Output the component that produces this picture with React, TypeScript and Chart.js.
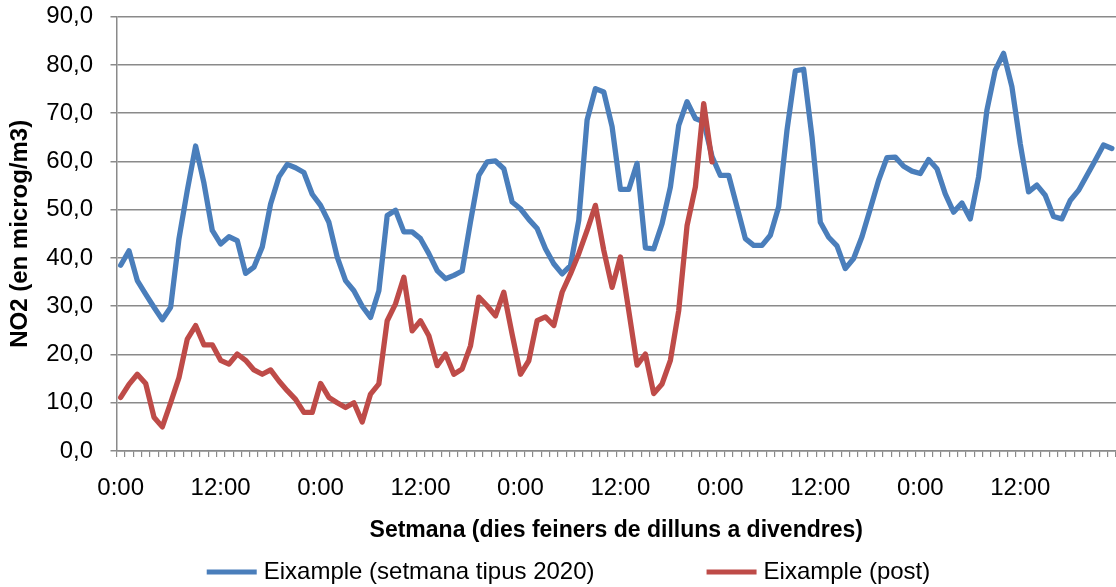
import React, { useEffect, useRef } from 'react';
import { Chart, registerables } from 'chart.js';

Chart.register(...registerables);

// Categories: hourly slots over five weekdays (Monday–Friday)
const DAYS = 5;
const HOURS: string[] = [];
for (let d = 0; d < DAYS; d++) {
  for (let h = 0; h < 24; h++) HOURS.push(`${h}:00`);
}

const BLUE_LABEL = 'Eixample (setmana tipus 2020)';
const RED_LABEL = 'Eixample (post)';
const X_TITLE = 'Setmana (dies feiners de dilluns a divendres)';
const Y_TITLE = 'NO2 (en microg/m3)';

const BLUE_VALUES: number[] = [
  38.5, 41.5, 35.3, 32.5, 29.8, 27.2, 29.8, 44.0, 54.0, 63.2, 55.5, 45.7,
  42.9, 44.4, 43.6, 36.8, 38.1, 42.3, 51.2, 56.8, 59.4, 58.7, 57.7, 53.2,
  50.9, 47.4, 40.2, 35.3, 33.2, 30.0, 27.7, 33.2, 48.8, 49.9, 45.4, 45.4,
  44.0, 40.9, 37.4, 35.7, 36.4, 37.3, 47.5, 57.1, 59.9, 60.1, 58.5, 51.6,
  50.2, 48.0, 46.1, 41.9, 38.8, 36.7, 38.4, 47.8, 68.6, 75.1, 74.4, 67.2,
  54.2, 54.2, 59.6, 42.1, 41.9, 47.1, 54.7, 67.5, 72.4, 68.9, 68.2, 61.0,
  57.1, 57.1, 50.6, 44.0, 42.6, 42.6, 44.7, 50.6, 66.5, 78.8, 79.1, 65.1,
  47.4, 44.3, 42.5, 37.8, 39.9, 44.4, 50.2, 56.1, 60.8, 60.9, 59.0, 58.0,
  57.5, 60.4, 58.5, 53.3, 49.5, 51.4, 48.1, 56.8, 70.6, 78.9, 82.4, 75.5,
  63.7, 53.7, 55.1, 53.0, 48.6, 48.1, 51.9, 54.0, 57.1, 60.2, 63.4, 62.7,
];

const RED_VALUES: number[] = [
  11.1, 13.8, 15.9, 14.0, 7.0, 5.0, 10.0, 15.2, 23.2, 26.0, 22.0, 22.0,
  18.8, 18.0, 20.1, 18.8, 16.8, 15.9, 16.8, 14.5, 12.5, 10.7, 8.0, 8.0,
  14.0, 11.1, 10.0, 9.0, 10.0, 6.0, 11.8, 13.9, 27.0, 30.5, 36.0, 24.9,
  27.0, 23.9, 17.7, 20.1, 15.9, 17.0, 21.8, 31.9, 30.1, 28.0, 32.9, 24.2,
  15.9, 18.7, 27.0, 27.8, 26.0, 32.9, 36.7, 40.9, 45.7, 50.9, 41.6, 33.9,
  40.2, 29.1, 17.8, 20.1, 11.9, 13.9, 18.8, 29.1, 46.7, 54.7, 72.0, 59.9,
];

const Y_MIN = 0;
const Y_MAX = 90;
const Y_STEP = 10;

const BLUE = '#4A7EBB';
const RED = '#BE4B48';
const GRID = '#8A8A8A';
const FONT = '"Liberation Sans", Arial, sans-serif';

const legendPlugin = {
  id: 'excelLegend',
  afterDraw(chart: any) {
    const ctx: CanvasRenderingContext2D = chart.ctx;
    const datasets = chart.data.datasets;
    ctx.save();
    ctx.font = `24px ${FONT}`;
    const lineW = 50;
    const gap = 7;
    const itemGap = 112;
    const widths = datasets.map((ds: any) => ctx.measureText(ds.label).width);
    let total = 0;
    widths.forEach((w: number, i: number) => {
      total += lineW + gap + w + (i > 0 ? itemGap : 0);
    });
    const centerX = 568.5;
    const y = 572;
    let x = centerX - total / 2;
    datasets.forEach((ds: any, i: number) => {
      ctx.strokeStyle = ds.borderColor;
      ctx.lineWidth = 5;
      ctx.lineCap = 'butt';
      ctx.beginPath();
      ctx.moveTo(x, y);
      ctx.lineTo(x + lineW, y);
      ctx.stroke();
      ctx.fillStyle = '#000';
      ctx.textAlign = 'left';
      ctx.textBaseline = 'middle';
      ctx.fillText(ds.label, x + lineW + gap, y);
      x += lineW + gap + widths[i] + itemGap;
    });
    ctx.restore();
  },
};

export default function App() {
  const canvasRef = useRef<HTMLCanvasElement | null>(null);

  useEffect(() => {
    if (!canvasRef.current) return;
    Chart.defaults.font.family = FONT;
    Chart.defaults.color = '#000';
    const chart = new Chart(canvasRef.current, {
      type: 'line',
      data: {
        labels: HOURS,
        datasets: [
          {
            label: BLUE_LABEL,
            data: BLUE_VALUES,
            borderColor: BLUE,
            backgroundColor: BLUE,
            borderWidth: 5.3,
            pointRadius: 0,
            pointHoverRadius: 0,
            tension: 0,
            borderJoinStyle: 'round',
            borderCapStyle: 'round',
            order: 1,
          },
          {
            label: RED_LABEL,
            data: RED_VALUES,
            borderColor: RED,
            backgroundColor: RED,
            borderWidth: 5.3,
            pointRadius: 0,
            pointHoverRadius: 0,
            tension: 0,
            borderJoinStyle: 'round',
            borderCapStyle: 'round',
            order: 0,
          },
        ],
      },
      options: {
        animation: false,
        responsive: true,
        maintainAspectRatio: false,
        layout: { padding: { top: 16.7, right: 0, bottom: 41.2, left: 0 } },
        plugins: {
          legend: { display: false },
          tooltip: { enabled: false },
        },
        scales: {
          x: {
            type: 'category',
            offset: true,
            grid: {
              display: true,
              drawOnChartArea: false,
              drawTicks: true,
              tickLength: 6,
              offset: true,
              color: GRID,
              lineWidth: 1.2,
            },
            border: { display: true, color: GRID, width: 1.5 },
            ticks: {
              autoSkip: false,
              maxRotation: 0,
              minRotation: 0,
              padding: 16.6,
              font: { size: 24 },
              color: '#000',
              callback: (_v: any, i: number) => (i % 12 === 0 ? HOURS[i] : ''),
            },
            title: {
              display: true,
              text: X_TITLE,
              color: '#000',
              font: { size: 23, weight: 'bold' },
              padding: { top: 14.8, bottom: 1 },
            },
            afterFit: (s: any) => {
              s.height = 94.8;
              s.paddingLeft = 0;
              s.paddingRight = 0;
            },
          },
          y: {
            min: Y_MIN,
            max: Y_MAX,
            ticks: {
              stepSize: Y_STEP,
              padding: 17.5,
              font: { size: 24 },
              color: '#000',
              callback: (v: any) => Number(v).toFixed(1).replace('.', ','),
            },
            grid: { color: GRID, lineWidth: 1.5, tickLength: 6 },
            border: { display: true, color: GRID, width: 1.5 },
            title: {
              display: true,
              text: Y_TITLE,
              color: '#000',
              font: { size: 24, weight: 'bold' },
              padding: { top: 6, bottom: 0 },
            },
            afterFit: (s: any) => {
              s.width = 116.5;
              s.paddingTop = 0;
              s.paddingBottom = 0;
            },
          },
        },
      },
      plugins: [legendPlugin],
    } as any);
    return () => chart.destroy();
  }, []);

  return (
    <div style={{ position: 'absolute', left: 0, top: 0, width: 1116, height: 587 }}>
      <canvas ref={canvasRef} />
    </div>
  );
}
